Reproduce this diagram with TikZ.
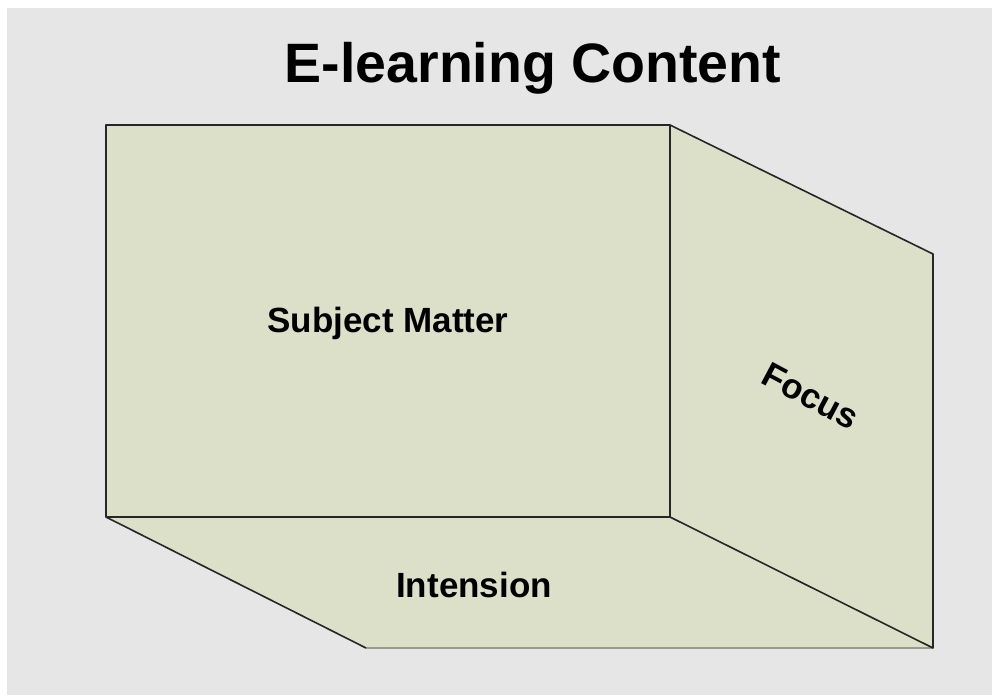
\documentclass[tikz,border=0pt]{standalone}
\usepackage{fontspec}
\setmainfont{Liberation Sans}
\definecolor{bgray}{HTML}{E6E6E6}
\definecolor{face}{HTML}{DCE0C9}
\definecolor{edge}{HTML}{262626}
\definecolor{lowedge}{HTML}{9A9A90}
\tikzset{
  facefill/.style={fill=face, draw=edge, line width=1.6pt, line join=round},
  label/.style={font=\fontsize{35}{40}\selectfont\bfseries, text=black, inner sep=0pt, anchor=base},
}
\begin{document}
\begin{tikzpicture}[x=1pt, y=-1pt]
\useasboundingbox (0,0) rectangle (992,695);
\fill[white] (0,0) rectangle (992,695);
\fill[bgray] (7,8) rectangle (992,695);
% corners
\coordinate (ftl) at (106,125);
\coordinate (ftr) at (670,125);
\coordinate (fbl) at (106,517);
\coordinate (fbr) at (670,517);
\coordinate (rtr) at (933,254);
\coordinate (rbr) at (933,648);
\coordinate (bbl) at (366,648);
% bottom face
\fill[face] (fbl) -- (fbr) -- (rbr) -- (bbl) -- cycle;
\draw[lowedge, line width=1.6pt] (bbl) -- (rbr);
\draw[edge, line width=1.6pt] (fbl) -- (bbl);
% right face
\path[facefill] (ftr) -- (rtr) -- (rbr) -- (fbr) -- cycle;
% front face
\path[facefill] (ftl) -- (ftr) -- (fbr) -- (fbl) -- cycle;
% texts
\node[font=\fontsize{55.5}{60}\selectfont\bfseries, inner sep=0pt, anchor=base] (title) at (533,83) {E-learning Content};
\node[label] (subj) at (388,332) {Subject Matter};
\node[label] (inten) at (474,597) {Intension};
\node[label, rotate=-28, anchor=center] (focus) at (811,396) {Focus};
\end{tikzpicture}
\end{document}
